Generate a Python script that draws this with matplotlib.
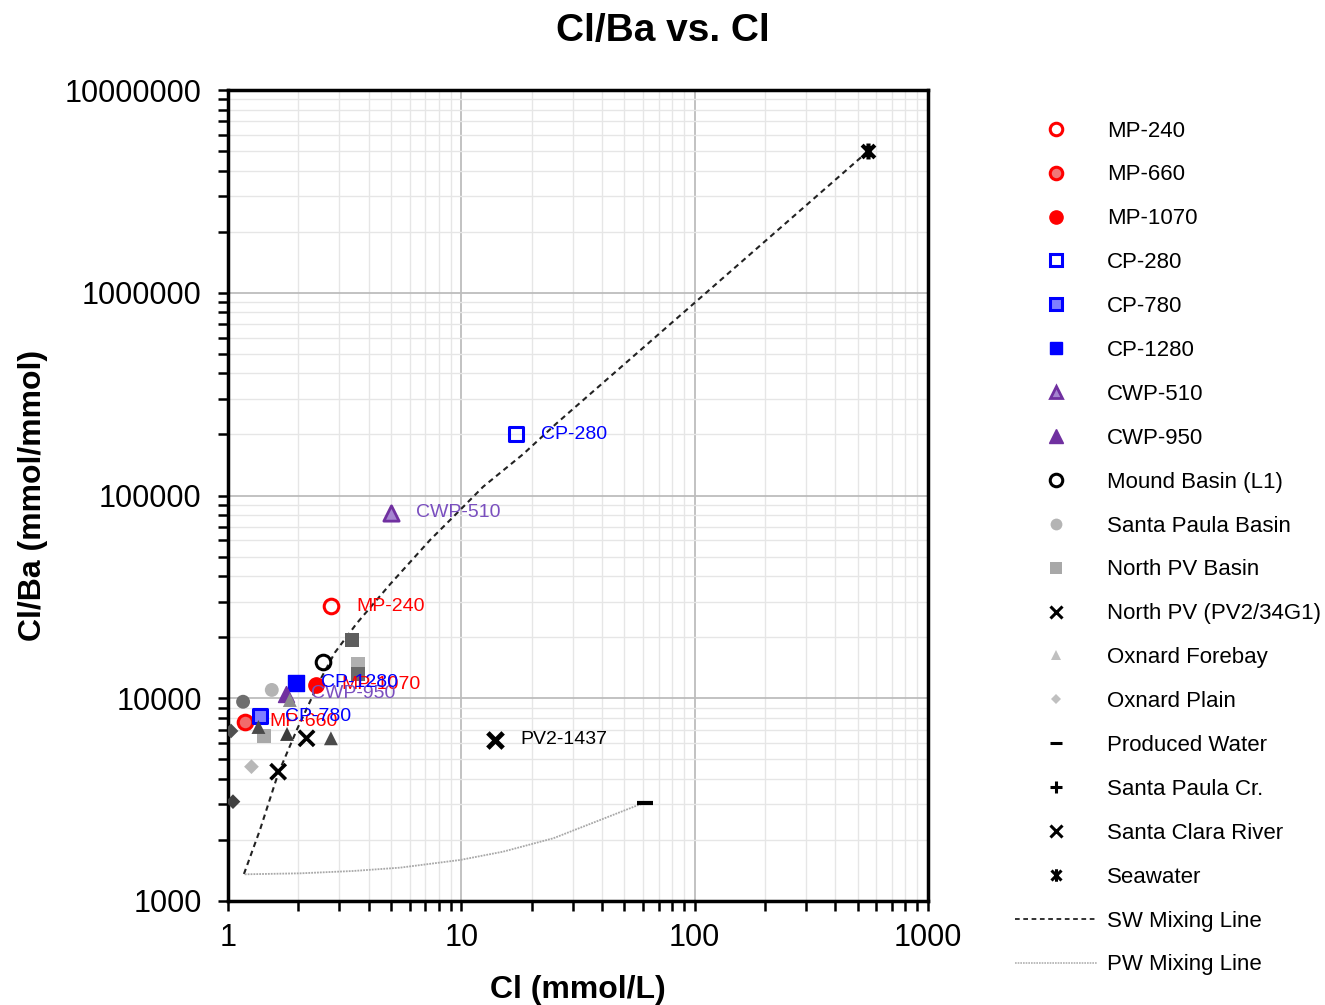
#!/usr/bin/env python3


# +
# import(s)
# -
import matplotlib
matplotlib.use('Agg')

import matplotlib.pyplot as plt
import matplotlib.ticker as mticker
import numpy as np
from matplotlib.lines import Line2D
from matplotlib.path import Path


# +
# data: Cl [mmol/L], Cl/Ba [mmol/mmol]
# -
MP240_CL, MP240_RATIO = [2.76], [28500]
MP660_CL, MP660_RATIO = [1.18], [7650]
MP1070_CL, MP1070_RATIO = [2.38], [11630]
CP280_CL, CP280_RATIO = [17.2], [201000]
CP780_CL, CP780_RATIO = [1.37], [8130]
CP1280_CL, CP1280_RATIO = [1.95], [11930]
CWP510_CL, CWP510_RATIO = [5.0], [82000]
CWP950_CL, CWP950_RATIO = [1.77], [10500]
MOUND_CL, MOUND_RATIO = [2.56], [15010]
SP_BASIN_CL, SP_BASIN_RATIO = [1.54, 1.16], [10990, 9610]
NPV_BASIN_CL, NPV_BASIN_RATIO = [3.39, 3.62, 3.62, 1.42], [19380, 14760, 13170, 6515]
NPV_WELL_CL, NPV_WELL_RATIO = [13.95], [6225]
FOREBAY_CL, FOREBAY_RATIO = [1.84, 1.35, 1.79, 2.76], [9800, 7215, 6665, 6345]
PLAIN_CL, PLAIN_RATIO = [1.26, 1.03, 1.05], [4597, 6895, 3090]
PRODUCED_CL, PRODUCED_RATIO = [61.3], [3040]
SP_CREEK_CL, SP_CREEK_RATIO = [], []
SCR_CL, SCR_RATIO = [2.17, 1.64], [6345, 4342]
SEAWATER_CL, SEAWATER_RATIO = [554], [5.0e6]

SW_MIX_CL = [1.17, 1.37, 1.64, 1.97, 2.48, 2.87, 3.56, 4.95, 7.34, 9.56, 12.4, 18.4,
             25.6, 100, 554]
SW_MIX_RATIO = [1359, 2240, 4250, 6973, 12300, 16800, 23400, 36500, 60300, 81700, 110500,
                160000, 227100, 893000, 5.0e6]
PW_MIX_CL = [1.18, 2.04, 3.44, 5.46, 9.87, 15.1, 24.8, 39.3, 57.4, 61.3]
PW_MIX_RATIO = [1354, 1369, 1406, 1460, 1593, 1751, 2039, 2508, 2976, 3040]

X_TICKS = [1, 10, 100, 1000]
Y_TICKS = [1000, 10000, 100000, 1000000, 10000000]


# +
# style(s)
# -
RED = '#ff0000'
BLUE = '#0000ff'
PURPLE = '#7030a0'
PURPLE_TEXT = '#7a4fbf'
SW_STAR = Path([(-1, -1), (1, 1), (-1, 1), (1, -1), (0, -1.25), (0, 1.25)],
               [Path.MOVETO, Path.LINETO, Path.MOVETO, Path.LINETO, Path.MOVETO, Path.LINETO])

plt.rcParams['font.family'] = ['Liberation Sans', 'DejaVu Sans']

# name, x, y, marker, size, face(s), edge(s), edge width, legend size, legend face, legend edge
SERIES = [
    ('MP-240', MP240_CL, MP240_RATIO, 'o', 10.5, 'none', RED, 2.2, 9, 'none', RED),
    ('MP-660', MP660_CL, MP660_RATIO, 'o', 10.5, '#f26b6b', RED, 2.2, 9, '#f07878', RED),
    ('MP-1070', MP1070_CL, MP1070_RATIO, 'o', 11, RED, RED, 1.0, 9.5, RED, RED),
    ('CP-280', CP280_CL, CP280_RATIO, 's', 10.5, 'none', BLUE, 2.2, 8.5, 'none', BLUE),
    ('CP-780', CP780_CL, CP780_RATIO, 's', 10.5, '#7f7fff', BLUE, 2.2, 8.5, '#7f7fff', BLUE),
    ('CP-1280', CP1280_CL, CP1280_RATIO, 's', 11.5, BLUE, BLUE, 1.0, 9, BLUE, BLUE),
    ('CWP-510', CWP510_CL, CWP510_RATIO, '^', 11, '#a585d0', PURPLE, 2.0, 9, '#a585d0', PURPLE),
    ('CWP-950', CWP950_CL, CWP950_RATIO, '^', 11.5, PURPLE, PURPLE, 1.0, 9.5, PURPLE, PURPLE),
    ('Mound Basin (L1)', MOUND_CL, MOUND_RATIO, 'o', 10.5, 'none', 'black', 2.2, 9, 'none', 'black'),
    ('Santa Paula Basin', SP_BASIN_CL, SP_BASIN_RATIO, 'o', 10,
     ['#b4b4b4', '#6e6e6e'], 'none', 0.0, 8.5, '#b4b4b4', '#b4b4b4'),
    ('North PV Basin', NPV_BASIN_CL, NPV_BASIN_RATIO, 's', 10,
     ['#5e5e5e', '#b0b0b0', '#6a6a6a', '#a8a8a8'], 'none', 0.0, 8, '#a8a8a8', '#a8a8a8'),
    ('North PV (PV2/34G1)', NPV_WELL_CL, NPV_WELL_RATIO, 'x', 11, 'black', 'black', 3.5,
     8.5, 'black', 'black'),
    ('Oxnard Forebay', FOREBAY_CL, FOREBAY_RATIO, '^', 10,
     ['#8c8c8c', '#4a4a4a', '#3c3c3c', '#4a4a4a'], 'none', 0.0, 7.5, '#c0c0c0', '#c0c0c0'),
    ('Oxnard Plain', PLAIN_CL, PLAIN_RATIO, 'D', 7.5,
     ['#b8b8b8', '#505050', '#404040'], 'none', 0.0, 5.5, '#c0c0c0', '#c0c0c0'),
    ('Produced Water', PRODUCED_CL, PRODUCED_RATIO, '_', 12, 'black', 'black', 3.0,
     9, 'black', 'black'),
    ('Santa Paula Cr.', SP_CREEK_CL, SP_CREEK_RATIO, '+', 11, 'black', 'black', 2.5,
     9, 'black', 'black'),
    ('Santa Clara River', SCR_CL, SCR_RATIO, 'x', 11, 'black', 'black', 2.6, 9, 'black', 'black'),
    ('Seawater', SEAWATER_CL, SEAWATER_RATIO, SW_STAR, 11.5, 'black', 'black', 3.0,
     9, 'black', 'black'),
]

# label, x, y, colour (text sits to the right of the point)
LABELS = [
    ('MP-240', MP240_CL[0], MP240_RATIO[0], RED),
    ('MP-1070', MP1070_CL[0], MP1070_RATIO[0], RED),
    ('MP-660', MP660_CL[0], MP660_RATIO[0], RED),
    ('CWP-510', CWP510_CL[0], CWP510_RATIO[0], PURPLE_TEXT),
    ('CWP-950', CWP950_CL[0], CWP950_RATIO[0], PURPLE_TEXT),
    ('CP-280', CP280_CL[0], CP280_RATIO[0], BLUE),
    ('CP-1280', CP1280_CL[0], CP1280_RATIO[0], BLUE),
    ('CP-780', CP780_CL[0], CP780_RATIO[0], BLUE),
    ('PV2-1437', NPV_WELL_CL[0], NPV_WELL_RATIO[0], 'black'),
]


# +
# function: plot()
# -
def plot(_out='out.png'):

    _fig = plt.figure(figsize=(13.25, 10.05), dpi=100)
    _ax = _fig.add_axes([0.1721, 0.1035, 0.5283, 0.8069])
    _ax.set_xscale('log')
    _ax.set_yscale('log')
    _ax.set_xlim(1, 1000)
    _ax.set_ylim(1000, 10000000)

    # grid
    _ax.set_axisbelow(True)
    _ax.xaxis.set_minor_locator(mticker.LogLocator(base=10, subs=np.arange(2, 10)))
    _ax.yaxis.set_minor_locator(mticker.LogLocator(base=10, subs=np.arange(2, 10)))
    _ax.xaxis.set_minor_formatter(mticker.NullFormatter())
    _ax.yaxis.set_minor_formatter(mticker.NullFormatter())
    _ax.grid(which='minor', color='#e6e6e6', lw=1.0)
    _ax.grid(which='major', color='#bdbdbd', lw=1.3)

    # mixing lines
    _ax.plot(SW_MIX_CL, SW_MIX_RATIO, color='#222222', lw=1.5, ls=(0, (2.6, 2.0)), zorder=2)
    _ax.plot(PW_MIX_CL, PW_MIX_RATIO, color='#a8a8a8', lw=1.3, ls=(0, (1, 0.6)), zorder=2)

    # point(s)
    _handles = []
    for (_n, _x, _y, _m, _s, _fc, _ec, _mew, _ls, _lfc, _lec) in SERIES:
        if _x:
            _ax.scatter(_x, _y, marker=_m, s=_s ** 2, c=_fc if isinstance(_fc, list) else [_fc] * len(_x),
                        edgecolors=_ec, linewidths=_mew, zorder=3)
        _handles.append(Line2D([], [], ls='none', marker=_m, ms=_ls, mfc=_lfc, mec=_lec,
                               mew=min(_mew, 2.2) if _mew else 0.0, label=_n))
    _handles.append(Line2D([], [], color='#222222', lw=1.3, ls=(0, (2.6, 2.0)), label='SW Mixing Line'))
    _handles.append(Line2D([], [], color='#b0b0b0', lw=1.2, ls=(0, (1, 0.6)), label='PW Mixing Line'))

    # label(s)
    for (_t, _x, _y, _c) in LABELS:
        _ax.annotate(_t, (_x, _y), xytext=(18, 0), textcoords='offset points',
                     ha='left', va='center', fontsize=14, color=_c, zorder=4)

    # axes
    for _sp in _ax.spines.values():
        _sp.set_linewidth(2.5)
        _sp.set_color('black')
    _ax.set_xticks(X_TICKS)
    _ax.set_yticks(Y_TICKS)
    _ax.xaxis.set_major_formatter(mticker.FuncFormatter(lambda v, p: f'{v:.0f}'))
    _ax.yaxis.set_major_formatter(mticker.FuncFormatter(lambda v, p: f'{v:.0f}'))
    _ax.tick_params(which='both', direction='out', length=7, width=1.8, color='black')
    _ax.tick_params(axis='both', which='major', labelsize=22)
    _ax.tick_params(axis='x', which='major', pad=9)
    _ax.tick_params(axis='y', which='major', pad=12)
    _ax.set_xlabel('Cl (mmol/L)', fontsize=23, fontweight='bold', labelpad=16)
    _ax.set_ylabel('Cl/Ba (mmol/mmol)', fontsize=23, fontweight='bold', labelpad=12)
    _fig.text(0.5, 0.969, 'Cl/Ba vs. Cl', ha='center', va='center', fontsize=28, fontweight='bold')

    # legend
    _fig.legend(handles=_handles, loc='upper left', bbox_to_anchor=(0.766, 0.880),
                frameon=False, fontsize=16, labelspacing=1.03, handlelength=3.7,
                handletextpad=0.45, borderpad=0, borderaxespad=0)

    _fig.savefig(_out, dpi=100)


# +
# main()
# -
if __name__ == '__main__':
    plot()
